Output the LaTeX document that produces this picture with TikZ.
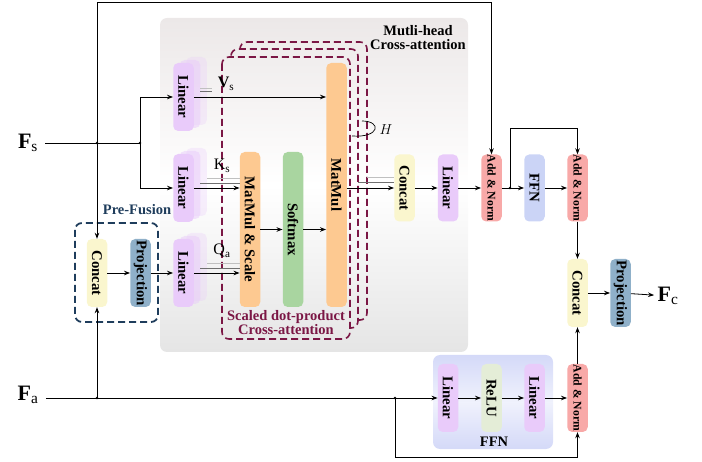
\documentclass[tikz,border=0pt]{standalone}
\usepackage{fontspec}
\setmainfont{Liberation Serif}
\usetikzlibrary{arrows.meta,calc}
\definecolor{cLin}{RGB}{233,203,250}
\definecolor{cCon}{RGB}{250,246,206}
\definecolor{cPro}{RGB}{143,176,201}
\definecolor{cMat}{RGB}{253,201,145}
\definecolor{cSof}{RGB}{169,213,160}
\definecolor{cAN}{RGB}{248,169,168}
\definecolor{cFFN}{RGB}{203,212,246}
\definecolor{cRel}{RGB}{228,237,215}
\definecolor{cMar}{RGB}{123,23,69}
\definecolor{cPre}{RGB}{31,61,92}
\definecolor{cGL}{RGB}{192,192,192}
\definecolor{cGD}{RGB}{112,112,112}
\definecolor{cBgT}{RGB}{236,232,232}
\definecolor{cBgB}{RGB}{229,229,229}
\definecolor{cFbg}{RGB}{212,217,248}
\newcommand\vtext[1]{\rotatebox{-90}{#1}}
\begin{document}
\begin{tikzpicture}[x=1pt,y=-1pt,
  nd/.style={draw=none, rounded corners=5pt, minimum width=20.5pt, inner sep=0pt,
             font=\bfseries\fontsize{14.8}{15}\selectfont},
  an/.style={nd, fill=cAN, minimum height=67pt, font=\bfseries\fontsize{11.7}{12}\selectfont},
  arr/.style={-{Stealth[length=6pt,width=4.5pt]}, line width=0.8pt},
  ln/.style={line width=0.8pt},
  dbox/.style={draw=cMar, line width=1.6pt, dash pattern=on 7pt off 4pt, rounded corners=7pt},
  pbox/.style={draw=cPre, line width=1.8pt, dash pattern=on 7pt off 4pt, rounded corners=7pt},
  glt/.style={draw=cGL, line width=0.8pt},
  gdk/.style={draw=cGD, line width=0.8pt},
  dot/.style={circle, fill=black, inner sep=0pt, minimum size=2.6pt},
  lbl/.style={font=\bfseries\fontsize{14.5}{14}\selectfont, align=center}
]
\useasboundingbox (0,0) rectangle (702,462);
% backgrounds
\shade[rounded corners=7pt, top color=cBgT, bottom color=cBgB, middle color=white]
  (160,18) rectangle (468,352);
\shade[rounded corners=7pt, top color=cFbg, bottom color=cFbg, middle color=cFbg!35]
  (433,355) rectangle (553,449);
% stacked dashed boxes
\begin{scope}
  \clip (0,0) -- (702,0) -- (702,462) -- (0,462) -- cycle
        (231,49) -- (231,328) -- (358,328) -- (358,49) -- cycle;
  \draw[dbox] (240,42) rectangle (367,320);
\end{scope}
\begin{scope}
  \clip (0,0) -- (702,0) -- (702,462) -- (0,462) -- cycle
        (222,57) -- (222,339) -- (350,339) -- (350,57) -- cycle;
  \draw[dbox] (231,49) rectangle (358,328);
\end{scope}
\draw[dbox] (222,57) rectangle (350,339);
\node[lbl, text=cMar] (sdlbl) at (286,323) {Scaled dot-product\\Cross-attention};
\node[lbl] (mhlbl) at (418,38) {Mutli-head\\Cross-attention};
% pre-fusion
\draw[pbox] (75,223) rectangle (158,322);
\node[lbl, text=cPre] (pflbl) at (137,210) {Pre-Fusion};
% stacked linear copies
\foreach \yy in {97,188,273}{
  \node[nd, fill=cLin, fill opacity=0.3, minimum height=68pt] at (196.5,\yy-6) {};
  \node[nd, fill=cLin, fill opacity=0.5, minimum height=68pt] at (190,\yy-3) {};
}
% nodes
\node[nd, fill=cLin, minimum height=68pt] (LV) at (183.5,97) {\vtext{Linear}};
\node[nd, fill=cLin, minimum height=68pt] (LK) at (183.5,188) {\vtext{Linear}};
\node[nd, fill=cLin, minimum height=68pt] (LQ) at (183.5,273) {\vtext{Linear}};
\node[nd, fill=cCon, minimum height=68pt] (CP) at (97,273) {\vtext{Concat}};
\node[nd, fill=cPro, minimum height=68pt] (PP) at (140.5,273) {\vtext{Projection}};
\node[nd, fill=cMat, minimum height=155pt] (MS) at (250,229.5) {\vtext{MatMul \& Scale}};
\node[nd, fill=cSof, minimum height=155pt] (SM) at (293,229.5) {\vtext{Softmax}};
\node[nd, fill=cMat, minimum height=244pt] (MM) at (336.5,185) {\vtext{MatMul}};
\node[nd, fill=cCon, minimum height=67pt] (C1) at (404.5,188) {\vtext{Concat}};
\node[nd, fill=cLin, minimum height=67pt] (L1) at (448,188) {\vtext{Linear}};
\node[an] (AN1) at (491.5,188) {\vtext{Add \& Norm}};
\node[nd, fill=cFFN, minimum height=67pt] (FF) at (534.5,188) {\vtext{FFN}};
\node[an] (AN2) at (577.5,188) {\vtext{Add \& Norm}};
\node[nd, fill=cCon, minimum height=68pt] (C2) at (577.5,293) {\vtext{Concat}};
\node[nd, fill=cPro, minimum height=68pt] (P2) at (620.5,293) {\vtext{Projection}};
\node[nd, fill=cLin, minimum height=68pt] (LB1) at (448,398) {\vtext{Linear}};
\node[nd, fill=cRel, minimum height=68pt] (RL) at (491.5,398) {\vtext{ReLU}};
\node[nd, fill=cLin, minimum height=68pt] (LB2) at (534.5,398) {\vtext{Linear}};
\node[an, minimum height=68pt] (AN3) at (577.5,398) {\vtext{Add \& Norm}};
\node[lbl] (ffnlbl) at (494,442) {FFN};
% io labels
\node (Fs) at (28,143) {\fontsize{22}{24}\selectfont$\mathbf{F}_{\mathrm{s}}$};
\node (Fa) at (28,395) {\fontsize{22}{24}\selectfont$\mathbf{F}_{\mathrm{a}}$};
\node (Fc) at (668,296) {\fontsize{22}{24}\selectfont$\mathbf{F}_{\mathrm{c}}$};
\node (Vs) at (226,84) {\fontsize{16}{18}\selectfont$\mathbf{V}_{\mathrm{s}}$};
\node (Ks) at (222,166) {\fontsize{16}{18}\selectfont$\mathrm{K}_{\mathrm{s}}$};
\node (Qa) at (222,251) {\fontsize{16}{18}\selectfont$\mathrm{Q}_{\mathrm{a}}$};
\node (H) at (386,130) {\fontsize{14.5}{16}\selectfont$H$};
% coordinates
\coordinate (jS1) at (97,143);
\coordinate (jS2) at (140,143);
\coordinate (top) at (97,2);
\coordinate (jA1) at (97,398);
\coordinate (jA2) at (395,398);
\coordinate (bot) at (395,457);
\coordinate (jR) at (510,188);
\coordinate (rtop) at (510,128);
% gray multi-head lines
\draw[glt] (200,88) -- (212,88);
\draw[gdk] (200,91) -- (212,91);
\draw[glt] (207,178) -- (MS.west |- 0,178);
\draw[gdk] (200,183) -- (MS.west |- 0,183);
\draw[glt] (207,263) -- (MS.west |- 0,263);
\draw[gdk] (200,268) -- (MS.west |- 0,268);
\draw[glt] (367,177) -- (C1.west |- 0,177);
\draw[gdk] (358,182) -- (C1.west |- 0,182);
% H loop
\draw[ln, line width=0.7pt] (352,136) .. controls (380,138) and (382,121) .. (362,121);
% connectors
\draw[ln] ([xshift=4pt]Fs.east |- jS1) -- (jS2);
\draw[arr] (jS2) |- (LV.west);
\draw[arr] (jS2) |- (LK.west);
\draw[arr] (jS1) -- (top) -| (AN1.north);
\draw[arr] (jS1) -- (CP.north);
\draw[arr] ([xshift=4pt]Fa.east |- jA1) -- (LB1.west);
\draw[arr] (jA1) -- (CP.south);
\draw[arr] (jA2) -- (bot) -| (AN3.south);
\draw[arr] (CP) -- (PP);
\draw[arr] (PP) -- (LQ);
\draw[arr] (LV) -- (LV -| MM.west);
\draw[arr] (LK) -- (LK -| MS.west);
\draw[arr] (LQ) -- (LQ -| MS.west);
\draw[arr] (MS) -- (SM);
\draw[arr] (SM) -- (SM -| MM.west);
\draw[arr] (MM.east |- C1) -- (C1);
\draw[arr] (C1) -- (L1);
\draw[arr] (L1) -- (AN1);
\draw[arr] (AN1) -- (FF);
\draw[arr] (FF) -- (AN2);
\draw[arr] (jR) -- (rtop) -| (AN2.north);
\draw[arr] (AN2) -- (C2);
\draw[arr] (C2) -- (P2);
\draw[arr] (P2) -- (Fc);
\draw[arr] (LB1) -- (RL);
\draw[arr] (RL) -- (LB2);
\draw[arr] (LB2) -- (AN3);
\draw[arr] (AN3) -- (C2);
% junction dots
\foreach \p in {jS1,jS2,jA1,jA2,jR} \node[dot] at (\p) {};
\end{tikzpicture}
\end{document}
